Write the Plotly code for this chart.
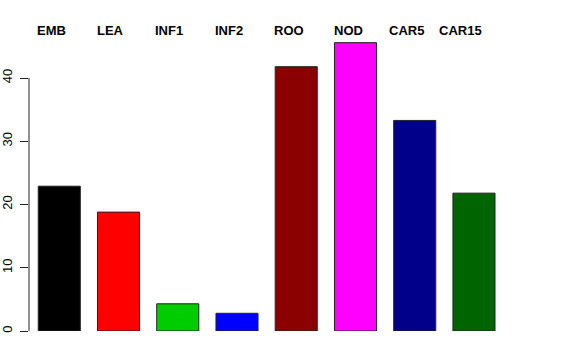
import plotly.graph_objects as go

categories = ["EMB", "LEA", "INF1", "INF2", "ROO", "NOD", "CAR5", "CAR15"]
values = [22.9, 18.8, 4.3, 2.8, 41.8, 45.6, 33.3, 21.8]
colors = ["#000000", "#FF0000", "#00CD00", "#0000FF", "#8B0000", "#FF00FF", "#00008B", "#006400"]
y_ticks = [0, 10, 20, 30, 40]

# label centres in pixels (style/layout only)
LABEL_PX = [51.7, 110, 169, 228.7, 289, 348.7, 406.7, 460]
L, R, T, B = 29, 56, 30, 29
W, H = 576, 360
plot_w = W - L - R

fig = go.Figure()
fig.add_trace(go.Bar(
    x=list(range(len(categories))),
    y=values,
    marker=dict(color=colors, line=dict(color="#222222", width=1)),
    hoverinfo="skip",
))

for name, px in zip(categories, LABEL_PX):
    fig.add_annotation(
        text="<b>%s</b>" % name, x=(px - L) / plot_w, xref="paper",
        y=1, yref="paper", yshift=0, showarrow=False, xanchor="center", yanchor="middle",
        font=dict(family="Liberation Sans, Arial", size=13, color="black"),
    )

fig.add_shape(type="line", xref="paper", yref="y", x0=0, x1=0, y0=y_ticks[0], y1=y_ticks[-1],
              line=dict(color="#222222", width=1))

fig.update_layout(
    width=W, height=H,
    margin=dict(l=L, r=R, t=T, b=B, pad=0, autoexpand=False),
    plot_bgcolor="white", paper_bgcolor="white",
    bargap=0.29,
    showlegend=False,
    font=dict(family="Liberation Sans, Arial", size=13, color="black"),
    xaxis=dict(range=[-0.511, 7.777], showticklabels=False, showline=False, showgrid=False,
               zeroline=False, ticks="", automargin=False),
    yaxis=dict(range=[0, 47.6], tickvals=y_ticks, ticktext=[str(v) for v in y_ticks],
               tickangle=-90, ticks="outside", ticklen=8, tickcolor="#222222", tickwidth=1,
               showline=False, showgrid=False, zeroline=False, ticklabelstandoff=3,
               automargin=False),
)

fig.write_html("out.html", config={"displayModeBar": False},
               post_script="document.body.style.margin='0';document.body.style.overflow='hidden';")
